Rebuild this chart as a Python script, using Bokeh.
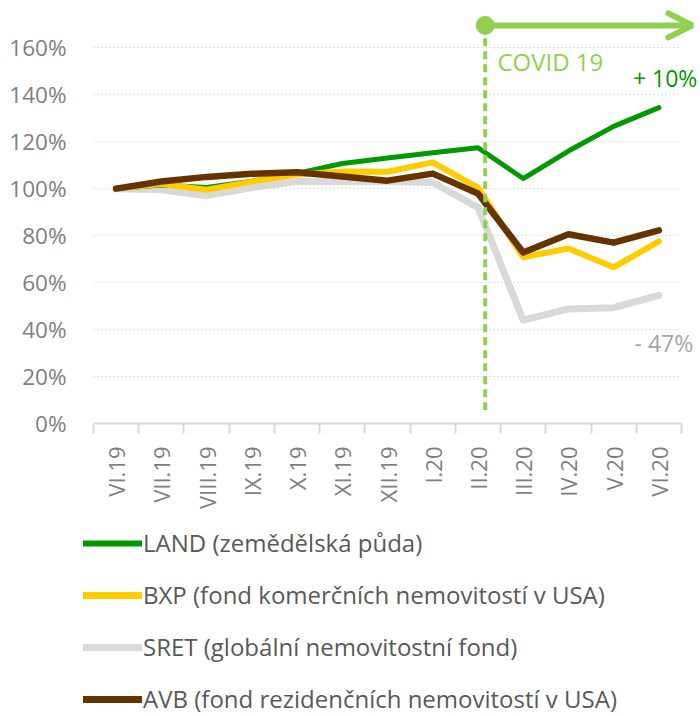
import math
from bokeh.plotting import figure
from bokeh.layouts import column
from bokeh.models import (Range1d, FixedTicker, CustomJSTickFormatter, PrintfTickFormatter,
                          Legend, LegendItem, Label, Arrow, OpenHead)
from bokeh.embed import file_html
from bokeh.resources import INLINE

# ---------------- data ----------------
CATEGORIES = ["VI.19", "VII.19", "VIII.19", "IX.19", "X.19", "XI.19", "XII.19",
              "I.20", "II.20", "III.20", "IV.20", "V.20", "VI.20"]
LAND = [100, 101.5, 100.5, 103.2, 106.5, 110.7, 113.0, 115.3, 117.4, 104.3, 116.0, 126.5, 134.5]
BXP = [100, 102.0, 99.5, 103.0, 106.0, 107.3, 107.2, 111.2, 100.4, 70.8, 74.5, 66.5, 77.5]
SRET = [100, 99.5, 97.0, 100.5, 103.0, 103.0, 103.0, 102.6, 92.0, 44.0, 48.8, 49.3, 54.6]
AVB = [100, 103.0, 105.0, 106.3, 107.0, 105.2, 103.4, 106.4, 97.9, 72.8, 80.6, 77.0, 82.2]
Y_TICKS = [0, 20, 40, 60, 80, 100, 120, 140, 160]
LEGEND_LABELS = ["LAND (zemědělská půda)",
                 "BXP (fond komerčních nemovitostí v USA)",
                 "SRET (globální nemovitostní fond)",
                 "AVB (fond rezidenčních nemovitostí v USA)"]
COVID_LABEL = "COVID 19"
LAND_CHANGE = "+ 10%"
SRET_CHANGE = "- 47%"

# ---------------- style ----------------
FONT = "Open Sans"
C_LAND = "#009900"
C_BXP = "#ffcc00"
C_SRET = "#d9d9d9"
C_AVB = "#663300"
C_COVID = "#92d050"
C_TICK = "#7f7f7f"

COVID_X = 8.66
ARROW_Y = 169.5
ARROW_END_X = 13.24

N = len(CATEGORIES)
xs = [i + 0.5 for i in range(N)]

p = figure(width=700, height=520, output_backend="svg", toolbar_location=None,
           x_range=Range1d(0, 13.42), y_range=Range1d(0, 180.1),
           min_border_left=93, min_border_right=0, min_border_top=0, min_border_bottom=97)
p.outline_line_color = None
p.background_fill_color = "white"
p.border_fill_color = "white"

# x axis
xa = p.xaxis[0]
xa.bounds = (0, N)
xa.ticker = FixedTicker(ticks=xs, minor_ticks=list(range(N + 1)))
xa.formatter = CustomJSTickFormatter(args=dict(cats=CATEGORIES),
                                     code="return cats[Math.floor(tick)];")
xa.major_label_orientation = math.pi / 2
xa.axis_line_color = "#d9d9d9"
xa.axis_line_width = 2
xa.major_tick_line_color = None
xa.major_tick_out = 10
xa.major_tick_in = 0
xa.minor_tick_line_color = "#d9d9d9"
xa.minor_tick_line_width = 2
xa.minor_tick_out = 10
xa.minor_tick_in = 0
xa.major_label_standoff = 13
xa.major_label_text_font = FONT
xa.major_label_text_font_size = "22px"
xa.major_label_text_color = C_TICK

# y axis
ya = p.yaxis[0]
ya.ticker = FixedTicker(ticks=Y_TICKS)
ya.formatter = PrintfTickFormatter(format="%d%%")
ya.axis_line_color = None
ya.major_tick_line_color = None
ya.minor_tick_line_color = None
ya.major_tick_out = 0
ya.major_tick_in = 0
ya.major_label_standoff = 27
ya.major_label_text_font = FONT
ya.major_label_text_font_size = "22.5px"
ya.major_label_text_color = C_TICK

p.xgrid.grid_line_color = None
g = p.ygrid[0]
if "cross_bounds" in g.properties():
    g.cross_bounds = (0, N)
    g.grid_line_color = "#bfbfbf"
    g.grid_line_dash = "1 3"
    g.grid_line_width = 1
else:
    g.visible = False
    p.segment(x0=[0] * len(Y_TICKS), x1=[N] * len(Y_TICKS), y0=Y_TICKS, y1=Y_TICKS,
              line_color="#bfbfbf", line_dash="1 3", line_width=1)

# series
common = dict(line_cap="round", line_join="round")
r_sret = p.line(xs, SRET, line_color=C_SRET, line_width=7, **common)
r_land = p.line(xs, LAND, line_color=C_LAND, line_width=5, **common)
r_bxp = p.line(xs, BXP, line_color=C_BXP, line_width=6, **common)
r_avb = p.line(xs, AVB, line_color=C_AVB, line_width=6.5, **common)

# covid marker
p.line([COVID_X, COVID_X], [164, 5.7], line_color=C_COVID, line_width=4, line_dash="8 5")
p.add_layout(Arrow(x_start=COVID_X, y_start=ARROW_Y, x_end=ARROW_END_X, y_end=ARROW_Y,
                   line_color=C_COVID, line_width=6,
                   end=OpenHead(size=24, line_color=C_COVID, line_width=6, line_cap="round")))
p.scatter([COVID_X], [ARROW_Y], size=18, fill_color=C_COVID, line_color=C_COVID)

p.add_layout(Label(x=8.93, y=154.2, text=COVID_LABEL, text_font=FONT, text_font_size="24px",
                   text_color=C_COVID, text_baseline="middle", text_align="left"))
p.add_layout(Label(x=13.35, y=146.9, text=LAND_CHANGE, text_font=FONT, text_font_size="23px",
                   text_color=C_LAND, text_baseline="middle", text_align="right"))
p.add_layout(Label(x=13.26, y=34.2, text=SRET_CHANGE, text_font=FONT, text_font_size="23px",
                   text_color="#a6a6a6", text_baseline="middle", text_align="right"))

# ---------------- legend panel ----------------
q = figure(width=700, height=196, output_backend="svg", toolbar_location=None,
           x_range=Range1d(1000, 1001), y_range=Range1d(1000, 1001),
           x_axis_type=None, y_axis_type=None,
           min_border_left=0, min_border_right=0, min_border_top=0, min_border_bottom=0)
q.outline_line_color = None
q.xgrid.grid_line_color = None
q.ygrid.grid_line_color = None

legend_x = 83
if "frame_align" in q.properties():
    q.frame_align = False
    p.frame_align = False
else:
    legend_x = -10

l_land = q.line(xs, LAND, line_color=C_LAND, line_width=6, line_cap="round")
l_bxp = q.line(xs, BXP, line_color=C_BXP, line_width=7, line_cap="round")
l_sret = q.line(xs, SRET, line_color=C_SRET, line_width=7, line_cap="round")
l_avb = q.line(xs, AVB, line_color=C_AVB, line_width=7, line_cap="round")

legend = Legend(items=[LegendItem(label=LEGEND_LABELS[0], renderers=[l_land]),
                       LegendItem(label=LEGEND_LABELS[1], renderers=[l_bxp]),
                       LegendItem(label=LEGEND_LABELS[2], renderers=[l_sret]),
                       LegendItem(label=LEGEND_LABELS[3], renderers=[l_avb])],
                location=(legend_x, 1), orientation="vertical",
                glyph_width=59, glyph_height=24, label_height=24, spacing=19,
                padding=0, margin=0, border_line_color=None, background_fill_alpha=0,
                label_text_font=FONT, label_text_font_size="24px",
                label_text_color="#595959", label_standoff=1)
q.add_layout(legend)

open("out.html", "w").write(file_html(column(p, q, spacing=0), INLINE))
